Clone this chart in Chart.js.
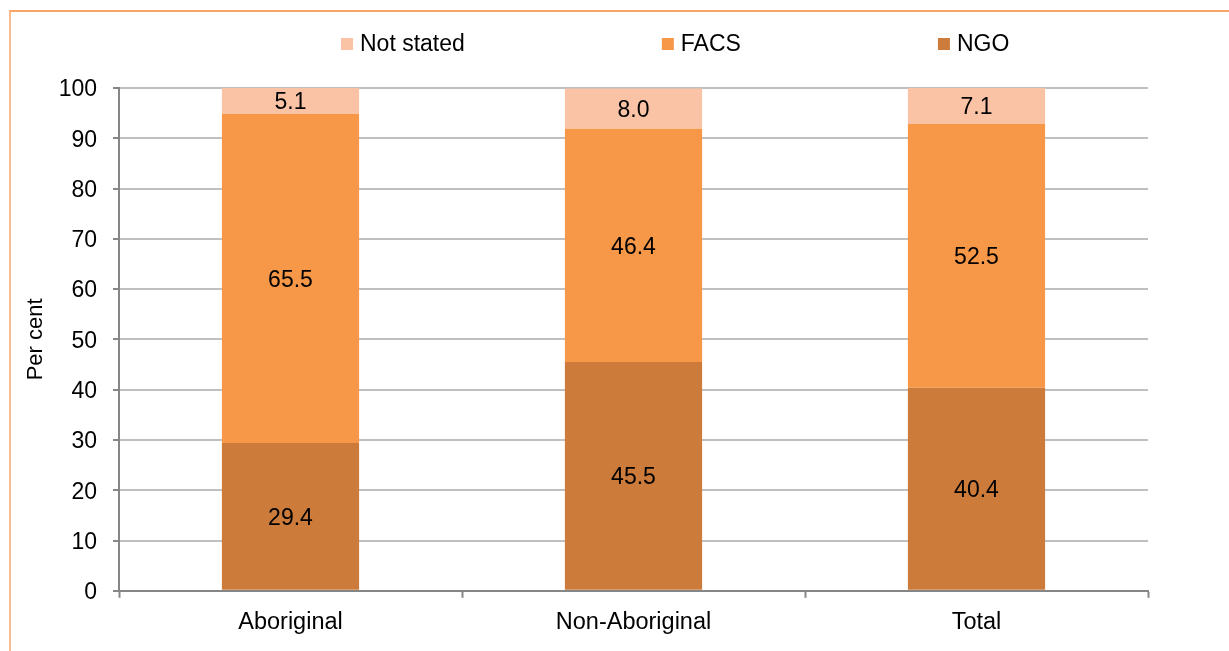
<!DOCTYPE html>
<html>
<head>
<meta charset="utf-8">
<title>Per cent by provider type</title>
<script src="https://cdn.jsdelivr.net/npm/chart.js@4.4.1/dist/chart.umd.min.js"></script>
<style>
  html, body { margin: 0; padding: 0; background: #ffffff; overflow: hidden; }
  #wrap { position: relative; width: 1229px; height: 651px; }
  #frame {
    position: absolute; left: 9px; top: 10px; width: 1400px; height: 800px;
    border-top: 2px solid #F7A465; border-left: 2px solid #F9BC8F;
    box-sizing: border-box;
  }
  #chart { position: absolute; left: 0; top: 0; }
</style>
</head>
<body>
<div id="wrap">
  <div id="frame"></div>
  <canvas id="chart" width="1229" height="651"></canvas>
</div>
<script>
// Categories and per cent values for each provider type
const categories = ['Aboriginal', 'Non-Aboriginal', 'Total'];
const ngo = [29.4, 45.5, 40.4];
const facs = [65.5, 46.4, 52.5];
const notStated = [5.1, 8.0, 7.1];
const yTicks = [0, 10, 20, 30, 40, 50, 60, 70, 80, 90, 100];

const FONT = '"Liberation Sans", Arial, sans-serif';

// Writes each segment's value in the middle of its bar segment
const segmentLabels = {
  id: 'segmentLabels',
  afterDatasetsDraw(chart) {
    const ctx = chart.ctx;
    ctx.save();
    ctx.font = '23px ' + FONT;
    ctx.fillStyle = '#000000';
    ctx.textAlign = 'center';
    ctx.textBaseline = 'middle';
    chart.data.datasets.forEach((ds, di) => {
      const meta = chart.getDatasetMeta(di);
      meta.data.forEach((bar, i) => {
        const p = bar.getProps(['x', 'y', 'base'], true);
        ctx.fillText(ds.data[i].toFixed(1), p.x, (p.y + p.base) / 2 + 2);
      });
    });
    ctx.restore();
  }
};

// Legend row across the top, listed from the top segment down
const topLegend = {
  id: 'topLegend',
  afterDraw(chart, args, opts) {
    const ctx = chart.ctx;
    ctx.save();
    ctx.font = '23px ' + FONT;
    ctx.textBaseline = 'middle';
    ctx.textAlign = 'left';
    let x = opts.startX;
    const y = opts.y;
    const items = chart.data.datasets.map(d => ({ label: d.label, color: d.backgroundColor })).reverse();
    items.forEach(it => {
      ctx.fillStyle = it.color;
      ctx.fillRect(x, y - 6, 12, 12);
      ctx.fillStyle = '#000000';
      ctx.fillText(it.label, x + 19, y + 1);
      x += 19 + ctx.measureText(it.label).width + opts.gap;
    });
    ctx.restore();
  }
};

new Chart(document.getElementById('chart'), {
  type: 'bar',
  data: {
    labels: categories,
    datasets: [
      { label: 'NGO', data: ngo, backgroundColor: '#CC7B3A' },
      { label: 'FACS', data: facs, backgroundColor: '#F79849' },
      { label: 'Not stated', data: notStated, backgroundColor: '#FAC3A5' }
    ]
  },
  plugins: [segmentLabels, topLegend],
  options: {
    responsive: false,
    animation: false,
    devicePixelRatio: 1,
    layout: { padding: { left: 0, right: 81, top: 88, bottom: 3 } },
    datasets: { bar: { categoryPercentage: 1.0, barPercentage: 0.4, borderWidth: 0 } },
    plugins: {
      legend: { display: false },
      tooltip: { enabled: false },
      topLegend: { startX: 341, y: 44, gap: 197 }
    },
    scales: {
      x: {
        stacked: true,
        grid: {
          drawOnChartArea: false,
          drawTicks: true,
          tickLength: 7,
          tickWidth: 2,
          tickColor: '#868686',
          offset: true
        },
        border: { display: true, color: '#868686', width: 2 },
        ticks: { color: '#000000', font: { family: FONT, size: 23.5 }, padding: 11 }
      },
      y: {
        stacked: true,
        min: 0,
        max: 100,
        afterFit(scale) { scale.width = 119; },
        afterBuildTicks(scale) { scale.ticks = yTicks.map(v => ({ value: v })); },
        grid: {
          color: ctx => (ctx.tick && ctx.tick.value === 0 ? 'rgba(0,0,0,0)' : '#C0C0C0'),
          lineWidth: 2,
          tickLength: 6,
          tickWidth: 2,
          tickColor: '#868686'
        },
        border: { display: true, color: '#868686', width: 2 },
        ticks: { color: '#000000', font: { family: FONT, size: 23 }, padding: 16, labelOffset: 2 },
        title: {
          display: true,
          text: 'Per cent',
          color: '#000000',
          font: { family: FONT, size: 22 },
          padding: { top: 23, bottom: 0 }
        }
      }
    }
  }
});
</script>
</body>
</html>
